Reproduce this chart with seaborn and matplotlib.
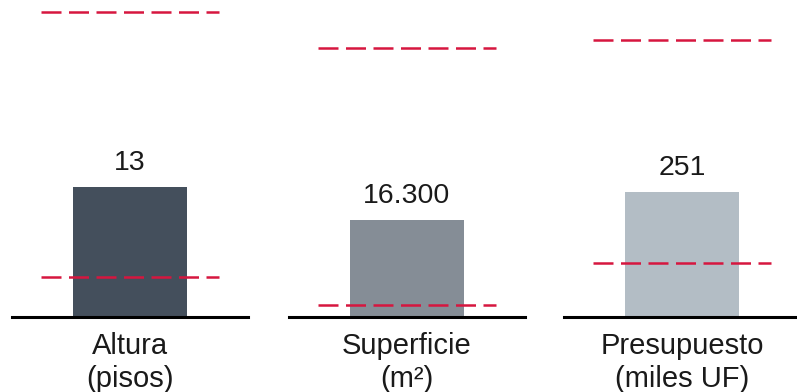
import matplotlib
matplotlib.use("Agg")
import matplotlib.pyplot as plt
import seaborn as sns
import pandas as pd

# ---- data ----
categories = ["Altura\n(pisos)", "Superficie\n(m²)", "Presupuesto\n(miles UF)"]
values = [13, 16300, 251]
value_labels = ["13", "16.300", "251"]
range_low = [4, 2000, 108]
range_high = [30.5, 45200, 556]

# ---- style ----
bar_colors = ["#444f5c", "#858d96", "#b3bdc5"]
red = "#d6163f"
y_tops = [31.7, 53270, 636.5]
axes_left_px = [12, 289, 564]

sns.set_theme(style="white")
plt.rcParams["font.family"] = ["Liberation Sans", "DejaVu Sans"]

W, H = 797, 392
fig = plt.figure(figsize=(W / 100, H / 100), dpi=100)

for i in range(3):
    left = axes_left_px[i] / W
    ax = fig.add_axes([left, (H - 317) / H, 236 / W, 317 / H])
    df = pd.DataFrame({"cat": [categories[i]], "val": [values[i]]})
    sns.barplot(data=df, x="cat", y="val", ax=ax, color=bar_colors[i],
                width=0.48, saturation=1, edgecolor="none")
    ax.set_xlim(-0.5, 0.5)
    ax.set_ylim(0, y_tops[i])
    ax.bar_label(ax.containers[0], labels=[value_labels[i]], padding=8,
                 fontsize=20.5, color="#1a1a1a")
    for yv in (range_low[i], range_high[i]):
        ax.hlines(yv, -0.377, 0.377, colors=red, linewidth=1.8,
                  linestyles=(0, (8, 3)), zorder=5)
    ax.set_xlabel("")
    ax.set_ylabel("")
    ax.set_yticks([])
    ax.tick_params(axis="x", length=0, pad=11, labelsize=21, labelcolor="#1a1a1a")
    for lbl in ax.get_xticklabels():
        lbl.set_linespacing(1.22)
    for s in ("top", "left", "right"):
        ax.spines[s].set_visible(False)
    ax.spines["bottom"].set_linewidth(2.2)
    ax.spines["bottom"].set_color("black")
    ax.patch.set_alpha(0)

fig.savefig("out.png", dpi=100, facecolor="white")
